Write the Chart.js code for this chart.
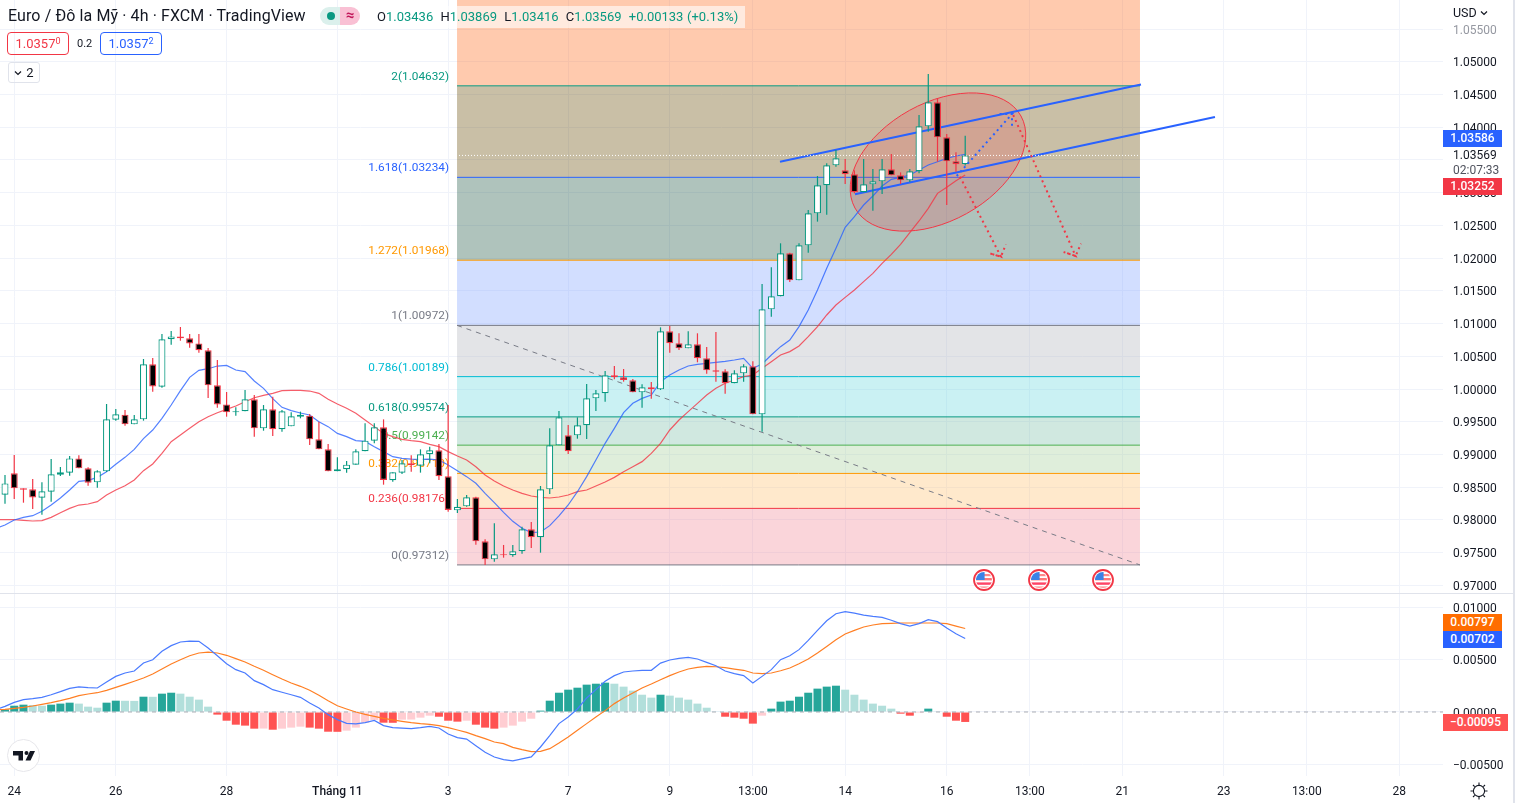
<!DOCTYPE html>
<html><head><meta charset="utf-8"><title>Euro / Đô la Mỹ</title>
<script src="https://cdn.jsdelivr.net/npm/chart.js@4"></script>
<style>
html,body{margin:0;padding:0;background:#fff;overflow:hidden}
#root{position:relative;width:1515px;height:803px;font-family:Roboto,sans-serif;color:#131722;background:#fff;overflow:hidden}
canvas{position:absolute;left:0}
.a{position:absolute;white-space:nowrap}
.tag{position:absolute;left:1443px;width:59px;height:17px;line-height:17px;color:#fff;font-size:12px;font-weight:500;text-align:center}
.box{position:absolute;top:32px;height:21px;width:60px;border:1px solid;border-radius:4px;font-size:13px;line-height:21px;text-align:center}
sup{font-size:9px;line-height:0;vertical-align:4px}
.o{color:#089981}
.flag{position:absolute;top:569px}
</style></head><body><div id="root">
<canvas id="price" width="1515" height="593" style="top:0;width:1515px;height:593px"></canvas>
<canvas id="macd" width="1515" height="209" style="top:594px;width:1515px;height:209px"></canvas>
<div class="a" style="left:0;top:593px;width:1513px;height:1px;background:#e0e3eb"></div>
<div class="a" style="left:1513px;top:0;width:2px;height:803px;background:#e0e3eb"></div>

<svg width="0" height="0" style="position:absolute"><defs><g id="usflag">
<circle cx="11" cy="11" r="10" fill="#fff" stroke="#f23645" stroke-width="1.8"/>
<clipPath id="cf"><circle cx="11" cy="11" r="8"/></clipPath>
<g clip-path="url(#cf)"><rect x="2" y="9" width="18" height="2.4" fill="#f77"/><rect x="2" y="13.4" width="18" height="2.4" fill="#f46"/><rect x="2" y="17.4" width="18" height="2" fill="#f99"/><rect x="11" y="5" width="10" height="2.2" fill="#f88"/><rect x="2" y="2" width="9.600" height="9" fill="#3b82e6"/></g>
</g></defs></svg>
<svg class="flag" style="left:973px" width="22" height="22"><use href="#usflag"/></svg>
<svg class="flag" style="left:1028px" width="22" height="22"><use href="#usflag"/></svg>
<svg class="flag" style="left:1092px" width="22" height="22"><use href="#usflag"/></svg>

<div class="a" style="left:370px;top:6px;width:375px;height:22px;background:rgba(255,255,255,.6)"></div>
<div class="a" style="left:8px;top:6px;font-size:16px;line-height:20px;letter-spacing:.1px">Euro / Đô la Mỹ · 4h · FXCM · TradingView</div>
<div class="a" style="left:320px;top:7px;width:20px;height:18px;background:#dbf0ec;border-radius:9px 0 0 9px"></div>
<div class="a" style="left:340px;top:7px;width:20px;height:18px;background:#f9c0d4;border-radius:0 9px 9px 0;color:#c2185b;font-size:15px;font-weight:700;line-height:17px;text-align:center">≈</div>
<div class="a" style="left:327px;top:12px;width:8px;height:8px;border-radius:4px;background:#089981"></div>
<div class="a" style="left:377px;top:8px;font-size:13px;line-height:18px;word-spacing:.4px">O<span class="o">1.03436</span> &nbsp;H<span class="o">1.03869</span> &nbsp;L<span class="o">1.03416</span> &nbsp;C<span class="o">1.03569</span> &nbsp;<span class="o">+0.00133 (+0.13%)</span></div>
<div class="box" style="left:7px;border-color:#f23645;color:#f23645">1.0357<sup>0</sup></div>
<div class="a" style="left:77px;top:37px;font-size:11px;line-height:14px">0.2</div>
<div class="box" style="left:100px;border-color:#2962ff;color:#2962ff">1.0357<sup>2</sup></div>
<div class="a" style="left:8px;top:62px;width:30px;height:19px;border:1px solid #e0e3eb;border-radius:3px;font-size:13px;line-height:19px;text-align:center"><svg width="8" height="6" viewBox="0 0 8 6" style="margin-right:4px;vertical-align:1px"><path d="M1 1.5 4 4.5 7 1.5" fill="none" stroke="#131722" stroke-width="1.2"/></svg>2</div>

<div class="a" style="left:1453px;top:5px;font-size:12.5px;line-height:16px">USD<svg width="8" height="6" viewBox="0 0 8 6" style="margin-left:3px;vertical-align:1px"><path d="M1 1.5 4 4.5 7 1.5" fill="none" stroke="#131722" stroke-width="1.2"/></svg></div>
<div class="a" style="left:1443px;top:147px;width:70px;height:32px;background:#fff"></div>
<div class="a" style="left:1453px;top:148px;font-size:12px;line-height:15px">1.03569</div>
<div class="a" style="left:1453px;top:163px;font-size:12px;line-height:15px;color:#50535e">02:07:33</div>
<div class="tag" style="top:130px;background:#2962ff">1.03586</div>
<div class="tag" style="top:178px;background:#f23645">1.03252</div>
<div class="tag" style="top:614px;background:#ff6d00">0.00797</div>
<div class="tag" style="top:631px;background:#2962ff">0.00702</div>
<div class="tag" style="top:714px;background:#ff5252;width:65px">−0.00095</div>

<svg class="a" style="left:7px;top:739px" width="33" height="33" viewBox="0 0 33 33"><circle cx="16.5" cy="16.5" r="16" fill="#fff" stroke="#e6e6ea"/><path d="M6 12h10v9.5h-4.5v-5H6z M19.5 12a2 2 0 1 1 0 4 2 2 0 0 1 0-4z M23 12h5l-4.500 9.5h-5z" fill="#131722"/></svg>
<svg class="a" style="left:1469px;top:781px" width="20" height="20" viewBox="0 0 20 20" fill="none" stroke="#131722" stroke-width="1.1"><circle cx="10" cy="10" r="5.6"/><path d="M10 1.5v2.4M10 16.1v2.4M1.5 10h2.4M16.1 10h2.4M4 4l1.7 1.7M14.3 14.3 16 16M4 16l1.7-1.7M14.3 5.700 16 4"/></svg>
</div>
<script>
// ---------- candles (bar index = array position) ----------
const opens=[.98385,.98711,.98482,.98467,.98339,.98431,.98691,.98721,.98940,.98788,
.98574,.98742,.99531,.99608,.99460,.99536,1.00377,1.00035,1.00759,1.00804,
1.00774,1.00697,1.00591,1.00056,.99765,.99643,.99659,.99842,.99399,.99689,
.99384,.99429,.99577,.99593,.99231,.99078,.98742,.98773,.98844,.99048,
.99211,.99414,.98605,.98722,.98864,.98829,.99002,.99063,.98666,.98146,
.98207,.98345,.97672,.97397,.97474,.97459,.97520,.97856,.97734,.98467,
.99139,.99292,.99292,.99445,.99857,.99934,1.00209,1.00178,1.00132,.99949,
1.00025,.99995,1.00881,1.00698,1.00621,1.00683,1.00469,1.00285,1.00270,1.00087,
1.00239,1.00346,.99613,1.01217,1.01416,1.02073,1.01660,1.02195,1.02684,1.03112,
1.03417,1.03341,1.03280,1.03005,1.03127,1.03173,1.03356,1.03264,1.03188,1.03326,
1.04013,1.04380,1.03845,1.03478,1.03436];
const closes=[.98558,.98482,.98462,.98344,.98436,.98696,.98727,.98940,.98788,.98569,
.98742,.99536,.99613,.99460,.99536,1.00377,1.00040,1.00759,1.00804,1.00774,
1.00697,1.00591,1.00056,.99765,.99643,.99659,.99842,.99399,.99689,.99384,
.99659,.99582,.99608,.99231,.99078,.98742,.98773,.98844,.99048,.99211,
.99414,.98610,.98727,.98864,.98834,.99002,.99063,.98666,.98151,.98202,
.98345,.97672,.97397,.97474,.97459,.97520,.97856,.97734,.98467,.99139,
.99567,.99048,.99445,.99857,.99934,1.00209,1.00178,1.00137,.99949,1.00025,
.99995,1.00881,1.00698,1.00621,1.00683,1.00469,1.00285,1.00265,1.00087,1.00239,
1.00346,.99613,1.01217,1.01416,1.02073,1.01660,1.02195,1.02684,1.03112,1.03417,
1.03524,1.03280,1.03005,1.03127,1.03173,1.03356,1.03264,1.03188,1.03326,1.04013,
1.04380,1.03845,1.03478,1.03433,1.03569];
const highs=[.98686,.98991,.98482,.98625,.98574,.98930,.98808,.98976,.98986,.98803,
.98757,.99771,.99694,.99679,.99602,1.00458,1.00473,1.00840,1.00886,1.00947,
1.00840,1.00840,1.00626,1.00443,.99954,.99720,.99984,.99908,.99755,.99883,
.99679,.99643,.99654,.99618,.99501,.99160,.98956,.98900,.99078,.99475,
.99475,.99536,.98727,.98915,.98986,.99078,.99119,.99160,.99755,.98319,
.98380,.98355,.97703,.97947,.97617,.97617,.97897,.97968,.98518,.99399,
.99664,.99450,.99567,1.00076,.99985,1.00275,1.00351,1.00306,1.00153,1.00071,
1.00107,1.00942,1.00963,1.00851,1.00881,1.00851,1.00642,1.00871,1.00301,1.00285,
1.00377,1.00423,1.01604,1.01859,1.02226,1.02083,1.02226,1.02735,1.03254,1.03448,
1.03652,1.03514,1.03341,1.03514,1.03361,1.03514,1.03590,1.03310,1.03361,1.04186,
1.04813,1.04441,1.03896,1.03616,1.03869];
const lows=[.98248,.98319,.98263,.98166,.98080,.98278,.98670,.98676,.98788,.98523,
.98492,.98732,.99516,.99440,.99460,.99516,.99959,1.00020,1.00677,1.00738,
1.00631,1.00555,.99862,.99715,.99577,.99592,.99659,.99271,.99363,.99282,
.99348,.99429,.99552,.99144,.99078,.98742,.98742,.98722,.98844,.99048,
.99170,.98538,.98584,.98701,.98737,.98722,.98864,.98610,.98126,.98105,
.98202,.97622,.97311,.97362,.97423,.97438,.97484,.97571,.97499,.98396,
.99139,.99007,.99241,.99236,.99664,.99806,1.00148,1.00112,.99949,.99715,
.99852,.99985,1.00555,1.00596,1.00621,1.00408,1.00234,1.00112,.99929,1.00087,
1.00112,.99613,.99348,1.01105,1.01416,1.01635,1.01660,1.02083,1.02557,1.02663,
1.03397,1.03132,1.02989,1.03005,1.02725,1.02979,1.03264,1.03132,1.03162,1.03295,
1.03932,1.03473,1.02811,1.03320,1.03416];
// moving averages: first value sits one bar left of the first candle
const maFast=[.97870,.97922,.97998,.98039,.98064,.98131,.98227,.98334,.98457,.98589,.98604,
.98650,.98737,.98849,.98956,.99078,.99241,.99373,.99552,.99755,.99974,
1.00178,1.00285,1.00310,1.00351,1.00361,1.00290,1.00265,1.00122,1.00010,.99852,
.99720,.99669,.99633,.99603,.99501,.99425,.99322,.99272,.99211,.99200,
.99119,.99043,.98966,.98941,.98930,.98925,.98930,.98915,.98839,.98752,
.98661,.98559,.98406,.98263,.98116,.97978,.97871,.97805,.97815,.97912,
.98060,.98228,.98431,.98661,.98915,.99170,.99399,.99638,.99781,.99857,
.99908,1.00112,1.00214,1.00290,1.00351,1.00377,1.00392,1.00407,1.00423,1.00443,
1.00469,1.00316,1.00382,1.00520,1.00647,1.00749,1.00953,1.01207,1.01513,1.01844,
1.02149,1.02470,1.02633,1.02811,1.02949,1.03102,1.03203,1.03234,1.03270,1.03346,
1.03422,1.03473,1.03524,1.03560,1.03585];
const maSlow=[.98003,.98003,.98003,.97993,.97983,.97988,.98039,.98110,.98176,.98227,.98243,
.98278,.98380,.98457,.98523,.98609,.98752,.98854,.99017,.99195,.99297,
.99399,.99501,.99577,.99638,.99689,.99740,.99806,.99867,.99903,.99934,
.99974,.99979,.99979,.99969,.99934,.99842,.99771,.99705,.99628,.99526,
.99425,.99322,.99272,.99231,.99211,.99195,.99154,.99119,.99043,.98976,
.98915,.98813,.98686,.98594,.98518,.98457,.98406,.98365,.98345,.98335,
.98350,.98380,.98431,.98457,.98518,.98579,.98650,.98737,.98813,.98890,
.99017,.99170,.99374,.99526,.99654,.99781,.99908,1.00010,1.00087,1.00138,
1.00188,1.00214,1.00316,1.00418,1.00520,1.00571,1.00657,1.00800,1.00953,1.01131,
1.01283,1.01400,1.01513,1.01640,1.01767,1.01920,1.02057,1.02210,1.02388,1.02567,
1.02760,1.02989,1.03081,1.03183,1.03270];
// MACD pane
const macdLine=[.00022,.00054,.00092,.00118,.00127,.00140,.00165,.00194,.00226,.00239,.00232,
.00229,.00286,.00340,.00372,.00391,.00467,.00499,.00579,.00633,.00668,
.00677,.00674,.00611,.00537,.00461,.00404,.00372,.00299,.00261,.00213,
.00188,.00165,.00140,.00086,.00038,-.00025,-.00073,-.00108,-.00114,-.00102,
-.00080,-.00130,-.00149,-.00153,-.00159,-.00149,-.00137,-.00153,-.00210,-.00245,
-.00258,-.00321,-.00385,-.00429,-.00455,-.00467,-.00448,-.00429,-.00334,-.00226,
-.00111,-.00048,.00029,.00134,.00213,.00293,.00347,.00382,.00391,.00398,
.00398,.00467,.00496,.00512,.00522,.00506,.00474,.00442,.00391,.00366,
.00347,.00277,.00340,.00404,.00499,.00537,.00595,.00684,.00779,.00871,
.00938,.00957,.00944,.00925,.00913,.00903,.00875,.00843,.00820,.00843,
.00881,.00862,.00801,.00747,.00702];
const signalLine=[.00022,.00025,.00035,.00045,.00057,.00073,.00089,.00108,.00130,.00156,.00172,
.00184,.00207,.00235,.00264,.00293,.00324,.00363,.00410,.00458,.00499,
.00537,.00563,.00572,.00563,.00541,.00509,.00477,.00436,.00398,.00356,
.00315,.00277,.00245,.00207,.00159,.00108,.00060,.00029,.00000,-.00022,
-.00041,-.00060,-.00076,-.00089,-.00102,-.00111,-.00118,-.00130,-.00149,-.00172,
-.00194,-.00226,-.00254,-.00286,-.00302,-.00337,-.00359,-.00378,-.00375,-.00350,
-.00296,-.00238,-.00175,-.00111,-.00048,.00013,.00080,.00134,.00181,.00229,
.00267,.00308,.00347,.00382,.00410,.00426,.00436,.00432,.00423,.00410,
.00398,.00372,.00366,.00372,.00394,.00420,.00461,.00506,.00563,.00626,
.00690,.00744,.00779,.00811,.00830,.00843,.00846,.00849,.00849,.00849,
.00849,.00849,.00843,.00820,.00797];
const histogram=[.00025,.00060,.00070,.00067,.00060,.00070,.00080,.00089,.00080,.00051,
.00041,.00089,.00108,.00107,.00106,.00146,.00145,.00175,.00184,.00175,
.00146,.00118,.00051,-.00025,-.00083,-.00121,-.00130,-.00159,-.00158,-.00169,
-.00159,-.00149,-.00140,-.00149,-.00159,-.00188,-.00189,-.00178,-.00149,-.00102,
-.00076,-.00102,-.00103,-.00073,-.00072,-.00054,-.00035,-.00045,-.00083,-.00092,
-.00083,-.00121,-.00149,-.00159,-.00149,-.00130,-.00092,-.00064,.00013,.00108,
.00184,.00213,.00232,.00261,.00270,.00280,.00270,.00242,.00204,.00165,
.00137,.00165,.00156,.00137,.00118,.00080,.00041,.00003,-.00045,-.00054,
-.00064,-.00111,-.00035,.00032,.00099,.00108,.00146,.00184,.00223,.00242,
.00251,.00213,.00165,.00118,.00080,.00060,.00032,-.00016,-.00035,-.00010,
.00032,.00003,-.00045,-.00083,-.00095];
// time axis
const timeTickBars=[1,12,24,36,48,61,72,81,91,102,111,121,132,141,151];
const timeTickLabels=["24","26","28","Tháng 11","3","7","9","13:00","14","16","13:00","21","23","13:00","28"];
const priceTicks=[0.97,0.975,0.98,0.985,0.99,0.995,1.0,1.005,1.01,1.015,1.02,1.025,1.03,1.035,1.04,1.045,1.05,1.055];
const macdTicks=[-0.005,0,0.005,0.01];
// Fibonacci retracement
const fibRatios=["2.618","2","1.618","1.272","1","0.786","0.618","0.5","0.382","0.236","0"];
const fibPrices=[1.06894,1.04632,1.03234,1.01968,1.00972,1.00189,.99574,.99142,.98710,.98176,.97312];
const fibLineColors=["#f23645","#089981","#2962ff","#ff9800","#787b86","#00bcd4","#089981","#4caf50","#ff9800","#f23645","#787b86"];
const fibFillColors=["rgba(255,102,22,.35)","rgba(100,72,0,.35)","rgba(26,84,64,.35)","rgba(126,161,255,.35)","rgba(175,178,186,.35)","rgba(104,215,221,.35)","rgba(120,189,166,.35)","rgba(164,206,152,.35)","rgba(255,192,109,.35)","rgba(241,135,149,.35)"];
const fibStart=48.96, fibEnd=122.93;
// drawings, as [bar, price]
const channelUpper=[[83.94,1.03473],[123.04,1.04651]];
const channelLower=[[92.06,1.02975],[131.05,1.04156]];
const arrowBlue=[[103.08,1.03254],[109.07,1.04202],[107.55,1.04202],[109.07,1.04202],[109.07,1.04023]];
const arrowRedA=[[103.43,1.03244],[107.87,1.02021],[106.65,1.02073],[107.87,1.02021],[108.41,1.02211]];
const arrowRedB=[[109.2,1.04186],[115.96,1.02032],[114.66,1.02093],[115.96,1.02032],[116.54,1.02220]];
const ellipseAxis=[[110.04,1.04171],[92.06,1.02765]];
const ellipseSide=[104.15,1.02680];
const lastClose=1.03569;

const FONT='Roboto, sans-serif';
const pts=a=>a.map(p=>({x:p[0],y:p[1]}));
const line=(label,data,color,width,order,extra)=>Object.assign({type:'line',label,data,borderColor:color,borderWidth:width,pointRadius:0,fill:false,tension:0,order,borderCapStyle:'butt'},extra||{});
const XMIN=-0.5415, XMAX=155.75;

function xAxis(showLabels,h){return {
  type:'linear',min:XMIN,max:XMAX,offset:false,
  grid:{offset:false,color:'#f0f3fa',lineWidth:1,drawTicks:false},
  border:{display:false},
  afterBuildTicks:s=>{s.ticks=timeTickBars.map(v=>({value:v}));},
  afterFit:s=>{s.height=h;s.paddingLeft=0;s.paddingRight=0;},
  ticks:{display:showLabels,autoSkip:false,maxRotation:0,padding:9,color:'#131722',
    font:c=>({family:FONT,size:12,weight:(c.tick&&c.tick.value===36)?'500':'400'}),
    callback:v=>{const i=timeTickBars.indexOf(v);return i<0?'':timeTickLabels[i];}}
};}
function yAxis(min,max,values,fmt){return {
  type:'linear',position:'right',min,max,offset:false,
  grid:{color:'#f0f3fa',lineWidth:1,drawTicks:false},
  border:{display:false},
  afterBuildTicks:s=>{s.ticks=values.map(v=>({value:v}));},
  afterFit:s=>{s.width=72;s.paddingTop=0;s.paddingBottom=0;},
  ticks:{autoSkip:false,padding:10,labelOffset:1.5,font:{family:FONT,size:12},
    color:c=>(c.tick&&c.tick.value===1.055)?'#9598a1':'#131722',callback:fmt}
};}

const up=closes.map((c,i)=>c>=opens[i]);
const TEAL='#089981',RED='#f23645';

const fibSets=[];
fibPrices.forEach((p,i)=>{
  const d=[{x:fibStart,y:p},{x:fibEnd,y:p}];
  fibSets.push(line('fib'+fibRatios[i],d,fibLineColors[i],1,200-i,
    i<fibPrices.length-1?{fill:{target:{value:fibPrices[i+1]}},backgroundColor:fibFillColors[i]}:{}));
});

const overlays={id:'overlays',
  beforeDatasetsDraw(c){
    const ctx=c.ctx,x=c.scales.x,y=c.scales.y;
    ctx.save();ctx.font='11.8px '+FONT;ctx.textAlign='right';ctx.textBaseline='middle';
    fibRatios.forEach((r,i)=>{
      if(i===0)return;
      ctx.fillStyle=fibLineColors[i];
      ctx.fillText(r+'('+fibPrices[i].toFixed(5)+')',x.getPixelForValue(fibStart)-8,y.getPixelForValue(fibPrices[i])-9);
    });
    ctx.restore();
  },
  beforeDatasetDraw(c,args){
    if(c.data.datasets[args.index].label!=='channelUpper')return;
    const x=c.scales.x,y=c.scales.y,ctx=c.ctx;
    const px=p=>[x.getPixelForValue(p[0]),y.getPixelForValue(p[1])];
    const a=px(ellipseAxis[0]),b=px(ellipseAxis[1]),s=px(ellipseSide);
    const cx=(a[0]+b[0])/2,cy=(a[1]+b[1])/2;
    ctx.save();ctx.beginPath();
    ctx.ellipse(cx,cy,Math.hypot(a[0]-b[0],a[1]-b[1])/2,Math.hypot(s[0]-cx,s[1]-cy),Math.atan2(a[1]-b[1],a[0]-b[0]),0,Math.PI*2);
    ctx.fillStyle='rgba(242,54,69,.2)';ctx.fill();
    ctx.strokeStyle='#f23645';ctx.lineWidth=1;ctx.stroke();ctx.restore();
  }
};

new Chart(document.getElementById('price'),{
  type:'line',plugins:[overlays],
  data:{datasets:[
    ...fibSets,
    line('fibTrend',[{x:fibStart,y:fibPrices[4]},{x:fibEnd,y:fibPrices[10]}],'#787b86',1,95,{borderDash:[5,5]}),
    line('channelUpper',pts(channelUpper),'#2962ff',2,80),
    line('channelLower',pts(channelLower),'#2962ff',2,79),
    line('lastPrice',[{x:XMIN,y:lastClose},{x:XMAX,y:lastClose}],'#ffffff',1,78,{borderDash:[1,2]}),
    line('maSlow',maSlow.map((v,i)=>({x:i-1,y:v})),'#f23645',1.2,61,{borderColor:'rgba(242,54,69,.8)'}),
    line('maFast',maFast.map((v,i)=>({x:i-1,y:v})),'#2962ff',1.2,60,{borderColor:'rgba(41,98,255,.8)'}),
    {type:'bar',label:'wicks',order:20,grouped:false,barThickness:1.2,inflateAmount:0,borderWidth:0,
      data:highs.map((h,i)=>({x:i,y:[lows[i],h]})),backgroundColor:up.map(u=>u?TEAL:RED)},
    {type:'bar',label:'bodies',order:10,grouped:false,barThickness:7,inflateAmount:0,borderWidth:1.2,borderSkipped:false,
      data:opens.map((o,i)=>({x:i,y:[o,closes[i]]})),
      backgroundColor:up.map(u=>u?'#ffffff':'#000000'),borderColor:up.map(u=>u?TEAL:RED)},
    line('arrowBlue',pts(arrowBlue),'#2962ff',2,5,{borderDash:[2,3.5]}),
    line('arrowRedA',pts(arrowRedA),'#f23645',2,4,{borderDash:[2,3.5]}),
    line('arrowRedB',pts(arrowRedB),'#f23645',2,3,{borderDash:[2,3.5]})
  ]},
  options:{responsive:false,animation:false,events:[],devicePixelRatio:1,
    layout:{padding:0},
    plugins:{legend:{display:false},tooltip:{enabled:false},title:{display:false}},
    scales:{x:xAxis(false,0),y:yAxis(1-204/6545,1+389/6545,priceTicks,v=>v.toFixed(5))}
  }
});

const histColors=histogram.map((v,i)=>{
  const p=i?histogram[i-1]:0;
  return v>=0?(v>=p?'#26a69a':'#b2dfdb'):(v<p?'#ff5252':'#ffcdd2');
});
new Chart(document.getElementById('macd'),{
  type:'line',
  data:{datasets:[
    line('zero',[{x:XMIN,y:0},{x:XMAX,y:0}],'rgba(120,123,134,.6)',1,30,{borderDash:[4,4]}),
    {type:'bar',label:'hist',order:40,grouped:false,barThickness:8,inflateAmount:0,borderWidth:0,
      data:histogram.map((v,i)=>({x:i,y:v})),backgroundColor:histColors},
    line('signal',signalLine.map((v,i)=>({x:i-1,y:v})),'#ff6d00',1.2,11,{borderColor:'#ff7f24'}),
    line('macd',macdLine.map((v,i)=>({x:i-1,y:v})),'#2962ff',1.2,10,{borderColor:'#4a7bff'})
  ]},
  options:{responsive:false,animation:false,events:[],devicePixelRatio:1,
    layout:{padding:0},
    plugins:{legend:{display:false},tooltip:{enabled:false}},
    scales:{x:xAxis(true,27),
      y:yAxis(-64/10480,118/10480,macdTicks,v=>(v<0?'−':'')+Math.abs(v).toFixed(5))}
  }
});
</script></body></html>
